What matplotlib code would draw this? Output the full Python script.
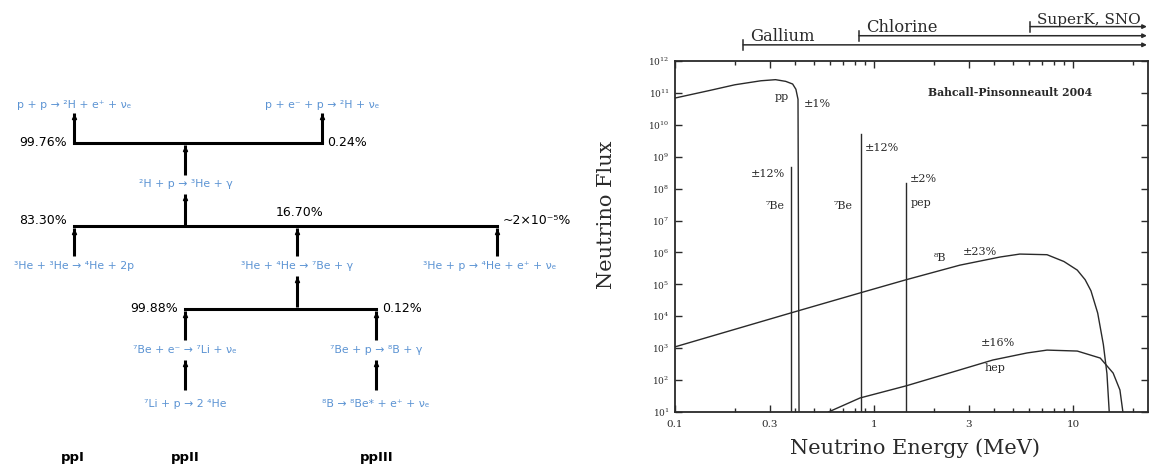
import matplotlib.pyplot as plt
from matplotlib.ticker import FixedLocator, NullFormatter, LogFormatterMathtext

plt.rcParams['mathtext.fontset'] = 'dejavuserif'

# pp-chain: reactions and branching ratios
pp_start = ["p + p → ²H + e⁺ + νₑ", "p + e⁻ + p → ²H + νₑ"]
pp_start_branch = ["99.76%", "0.24%"]
deuterium_step = "²H + p → ³He + γ"
he3_reactions = ["³He + ³He → ⁴He + 2p", "³He + ⁴He → ⁷Be + γ",
                 "³He + p → ⁴He + e⁺ + νₑ"]
he3_branch = ["83.30%", "16.70%", "~2×10⁻⁵%"]
be7_reactions = ["⁷Be + e⁻ → ⁷Li + νₑ", "⁷Be + p → ⁸B + γ"]
be7_branch = ["99.88%", "0.12%"]
final_reactions = ["⁷Li + p → 2 ⁴He", "⁸B → ⁸Be* + e⁺ + νₑ"]
chain_names = ["ppI", "ppII", "ppIII"]

# solar neutrino spectra (continua per cm^2 s MeV, lines per cm^2 s)
pp_energy = [0.10, 0.15, 0.20, 0.27, 0.32, 0.36, 0.39, 0.405, 0.415, 0.42]
pp_flux = [6.9e10, 1.2e11, 1.8e11, 2.4e11, 2.6e11, 2.3e11, 1.9e11, 1.3e11,
           6.3e10, 1.0e1]
b8_energy = [0.10, 0.38, 0.86, 1.44, 2.7, 4.3, 5.4, 7.4, 9.0, 10.5, 11.5,
             12.3, 13.3, 14.2, 14.8, 15.2]
b8_flux = [1.1e3, 1.26e4, 5.5e4, 1.38e5, 4.0e5, 7.2e5, 8.9e5, 8.5e5, 5.2e5,
           2.8e5, 1.4e5, 6.3e4, 1.26e4, 1.3e3, 1.6e2, 1.0e1]
hep_energy = [0.59, 0.85, 1.45, 2.7, 3.96, 5.87, 7.4, 10.5, 13.7, 15.9, 17.2,
              17.8]
hep_flux = [1.0e1, 27.5, 66, 209, 427, 708, 871, 813, 490, 166, 49, 1.0e1]
line_energy = [0.384, 0.862, 1.442]
line_flux = [4.8e8, 5.0e9, 1.5e8]
detectors = ["Gallium", "Chlorine", "SuperK, SNO"]
detector_thresholds = [0.22, 0.84, 6.1]

REACTION_BLUE = '#5b93d3'
INK = '#2a2a2a'

fig = plt.figure(figsize=(11.59, 4.68), dpi=100)

# ---- left: pp-chain diagram, drawn in pixel-like coordinates ----
chain = fig.add_axes([0, 0, 580 / 1159, 1])
chain.set_xlim(0, 580)
chain.set_ylim(468, 0)
chain.axis('off')


def reaction(x, y, label):
    chain.text(x, y, label, ha='center', va='center', fontsize=7.8,
               color=REACTION_BLUE, family=['DejaVu Sans'])


def stem(x, y0, y1):
    chain.plot([x, x], [y0, y1], color='k', lw=2.2, solid_capstyle='butt')
    chain.plot(x, y0 + 4, marker='^', ms=3, color='k')


def bar(x0, x1, y):
    chain.plot([x0, x1], [y, y], color='k', lw=2.2, solid_capstyle='projecting')


def branch_label(x, y, label, ha):
    chain.text(x, y, label, ha=ha, va='center', fontsize=9, color='k',
               family=['DejaVu Sans'])


for x, label in zip([74, 322], pp_start):
    reaction(x, 105, label)
    stem(x, 113, 143)
bar(74, 322, 143)
branch_label(67, 143, pp_start_branch[0], 'right')
branch_label(327, 143, pp_start_branch[1], 'left')

stem(185, 145, 175)
reaction(186, 184, deuterium_step)
stem(185, 194, 226)

bar(74, 497, 226)
branch_label(67, 220, he3_branch[0], 'right')
branch_label(300, 212, he3_branch[1], 'center')
branch_label(503, 220, he3_branch[2], 'left')
for x, cx, label in zip([74, 297, 497], [74, 297, 490], he3_reactions):
    stem(x, 228, 256)
    reaction(cx, 266, label)

stem(297, 276, 307)
bar(185, 376, 309)
branch_label(178, 309, be7_branch[0], 'right')
branch_label(382, 309, be7_branch[1], 'left')
for x, label, last in zip([185, 376], be7_reactions, final_reactions):
    stem(x, 311, 340)
    reaction(x, 350, label)
    stem(x, 360, 390)
    reaction(x, 404, last)

for x, name in zip([73, 185, 377], chain_names):
    chain.text(x, 458, name, ha='center', va='center', fontsize=9.5,
               fontweight='bold', color='k', family=['DejaVu Sans'])

# ---- right: solar neutrino spectrum ----
ax = fig.add_axes([675 / 1159, 1 - 412 / 468, 473 / 1159, 351 / 468])
ax.set_xscale('log')
ax.set_yscale('log')
ax.set_xlim(0.1, 23.8)
ax.set_ylim(1e1, 1e12)

for energy, flux in [(pp_energy, pp_flux), (b8_energy, b8_flux),
                     (hep_energy, hep_flux)]:
    ax.plot(energy, flux, color=INK, lw=1.0)
for energy, flux in zip(line_energy, line_flux):
    ax.plot([energy, energy], [1e1, flux], color=INK, lw=1.0)

for spine in ax.spines.values():
    spine.set_linewidth(1.3)
    spine.set_color(INK)

ax.xaxis.set_major_locator(FixedLocator([0.1, 0.3, 1, 3, 10]))
ax.xaxis.set_minor_locator(FixedLocator(
    [0.2, 0.4, 0.5, 0.6, 0.7, 0.8, 0.9, 2, 4, 5, 6, 7, 8, 9, 20]))
ax.xaxis.set_minor_formatter(NullFormatter())
ax.set_xticklabels(['0.1', '0.3', '1', '3', '10'])
ax.yaxis.set_major_locator(FixedLocator([10.0 ** k for k in range(1, 13)]))
ax.yaxis.set_minor_locator(FixedLocator([]))
ax.yaxis.set_major_formatter(LogFormatterMathtext())
ax.tick_params(which='both', direction='in', top=True, right=True,
               color=INK, width=1.0)
ax.tick_params(which='major', length=5)
ax.tick_params(which='minor', length=3)
ax.tick_params(axis='x', pad=6, labelsize=7.5)
ax.tick_params(axis='y', pad=4, labelsize=6.5)
for lbl in ax.get_xticklabels() + ax.get_yticklabels():
    lbl.set_family('DejaVu Serif')
    lbl.set_color(INK)

serif = dict(family='DejaVu Serif', color=INK)
ax.text(0.345, 7.4e10, 'pp', ha='center', va='center', fontsize=8, **serif)
ax.text(0.518, 4.5e10, '±1%', ha='center', va='center', fontsize=8, **serif)
ax.text(0.357, 2.9e8, '±12%', ha='right', va='center', fontsize=8, **serif)
ax.text(0.357, 2.9e7, '⁷Be', ha='right', va='center', fontsize=8, **serif)
ax.text(0.78, 2.9e7, '⁷Be', ha='right', va='center', fontsize=8, **serif)
ax.text(0.90, 1.9e9, '±12%', ha='left', va='center', fontsize=8, **serif)
ax.text(1.52, 2.0e8, '±2%', ha='left', va='center', fontsize=8, **serif)
ax.text(1.52, 3.5e7, 'pep', ha='left', va='center', fontsize=8, **serif)
ax.text(2.15, 6.8e5, '⁸B', ha='center', va='center', fontsize=8, **serif)
ax.text(3.41, 1.05e6, '±23%', ha='center', va='center', fontsize=8, **serif)
ax.text(4.2, 1.45e3, '±16%', ha='center', va='center', fontsize=8, **serif)
ax.text(4.06, 2.4e2, 'hep', ha='center', va='center', fontsize=8, **serif)
ax.text(0.708, 0.909, 'Bahcall-Pinsonneault 2004', transform=ax.transAxes,
        ha='center', va='center', fontsize=7.8, fontweight='bold', **serif)

# detector thresholds above the frame
top = ax.get_xaxis_transform()
for k, (name, threshold) in enumerate(zip(detectors, detector_thresholds)):
    level = 1.046 + 0.026 * k
    ax.annotate('', xy=(23.5, level), xycoords=top,
                xytext=(threshold, level), textcoords=top,
                arrowprops=dict(arrowstyle='-|>', lw=1.1, color=INK,
                                mutation_scale=6, shrinkA=0, shrinkB=0),
                annotation_clip=False)
    ax.plot([threshold, threshold], [level - 0.014, level + 0.014],
            transform=top, color=INK, lw=1.1, clip_on=False)
    ax.annotate(name, xy=(threshold, level), xycoords=top,
                xytext=(5, 0), textcoords='offset points', ha='left',
                va='bottom', fontsize=11.8 if k < 2 else 11, **serif)

fig.text(607 / 1159, 1 - 215 / 468, 'Neutrino Flux', rotation=90,
         ha='center', va='center', fontsize=15, **serif)
fig.text(915 / 1159, 1 - 448 / 468, 'Neutrino Energy (MeV)',
         ha='center', va='center', fontsize=15, **serif)

fig.savefig('out.png', dpi=100, facecolor='white')
